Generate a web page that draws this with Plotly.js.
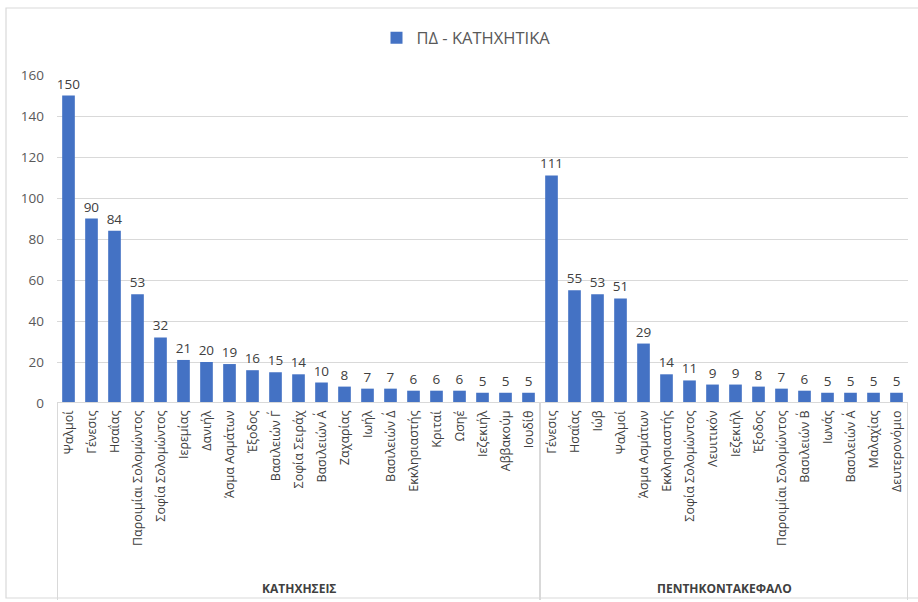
<!DOCTYPE html>
<html>
<head>
<meta charset="utf-8">
<script src="https://cdn.plot.ly/plotly-3.0.1.min.js"></script>
<style>html,body{margin:0;padding:0;background:#fff;}#chart{width:918px;height:602px;}</style>
</head>
<body>
<div id="chart"></div>
<script>
const groupA = "ΚΑΤΗΧΗΣΕΙΣ";
const groupB = "ΠΕΝΤΗΚΟΝΤΑΚΕΦΑΛΟ";
const booksA = ["Ψαλμοί","Γένεσις","Ησαΐας","Παροιμίαι Σολομώντος","Σοφία Σολομώντος","Ιερεμίας","Δανιήλ","Άσμα Ασμάτων","Έξοδος","Βασιλειών Γ΄","Σοφία Σειράχ","Βασιλειών Α΄","Ζαχαρίας","Ιωήλ","Βασιλειών Δ΄","Εκκλησιαστής","Κριταί","Ωσηέ","Ιεζεκιήλ","Αββακούμ","Ιουδίθ"];
const valuesA = [150,90,84,53,32,21,20,19,16,15,14,10,8,7,7,6,6,6,5,5,5];
const booksB = ["Γένεσις","Ησαΐας","Ιώβ","Ψαλμοί","Άσμα Ασμάτων","Εκκλησιαστής","Σοφία Σολομώντος","Λευιτικόν","Ιεζεκιήλ","Έξοδος","Παροιμίαι Σολομώντος","Βασιλειών Β΄","Ιωνάς","Βασιλειών Α΄","Μαλαχίας","Δευτερονόμιο"];
const valuesB = [111,55,53,51,29,14,11,9,9,8,7,6,5,5,5,5];
const seriesName = "ΠΔ - ΚΑΤΗΧΗΤΙΚΑ";
const yTicks = [0,20,40,60,80,100,120,140,160];

const inner = booksA.concat(booksB);
const vals = valuesA.concat(valuesB);
const idx = inner.map((_, i) => i);
const nA = booksA.length, n = inner.length;

const L=57, R=908, T=75, B=403;
const W=R-L, H=B-T;
const px = x => (x-L)/W;
const py = y => (B-y)/H;

const font = "'Open Sans', 'Noto Sans', sans-serif";

const divColor = '#D9D9D9';
const shapes = [
  {type:'rect', xref:'paper', yref:'paper', x0:px(6), x1:px(925), y0:py(598), y1:py(8), line:{color:'#D9D9D9', width:1.2}, fillcolor:'rgba(0,0,0,0)', layer:'below'}
];
[-0.5, nA-0.5, n-0.5].forEach(xv => shapes.push({type:'line', xref:'x', yref:'paper', x0:xv, x1:xv, y0:0, y1:py(600), line:{color:divColor, width:2}}));
shapes.push({type:'line', xref:'paper', yref:'y', x0:0, x1:1, y0:0, y1:0, line:{color:divColor, width:2}});

const annotations = [
  {xref:'x', yref:'paper', x:(nA-1)/2, y:py(588), yanchor:'middle', text:'<b>'+groupA+'</b>', showarrow:false, font:{size:12, color:'#404040'}},
  {xref:'x', yref:'paper', x:nA+(n-nA-1)/2, y:py(588), yanchor:'middle', text:'<b>'+groupB+'</b>', showarrow:false, font:{size:12, color:'#404040'}}
];

Plotly.newPlot('chart', [{
  type:'bar',
  x:idx,
  y:vals,
  name:seriesName,
  marker:{color:'#4472C4'},
  text:vals.map(String),
  textposition:'outside',
  constraintext:'none',
  textfont:{size:13.5,color:'#404040',family:font},
  cliponaxis:false,
  showlegend:true,
  hoverinfo:'y'
}], {
  width:918, height:602,
  margin:{l:L, r:918-R, t:T, b:602-B},
  paper_bgcolor:'#fff', plot_bgcolor:'#fff',
  font:{family:font, color:'#595959', size:12},
  bargap:0.45,
  showlegend:true,
  legend:{orientation:'h', x:px(466), xanchor:'center', y:py(38), yanchor:'middle', font:{size:16.5,color:'#595959'}},
  xaxis:{type:'linear', range:[-0.5, n-0.5], tickvals:idx, ticktext:inner, tickangle:-90,
         tickfont:{size:12.5,color:'#404040'}, showline:false, ticks:'', showgrid:false, zeroline:false, ticklabelstandoff:4},
  yaxis:{range:[0,160], tickvals:yTicks, showgrid:true, gridcolor:'#D9D9D9', gridwidth:1, zeroline:false,
         tickfont:{size:13.5,color:'#595959'}, ticks:'', showline:false, ticklabelstandoff:12},
  shapes:shapes,
  annotations:annotations
}, {displayModeBar:false, staticPlot:true});
</script>
</body>
</html>
